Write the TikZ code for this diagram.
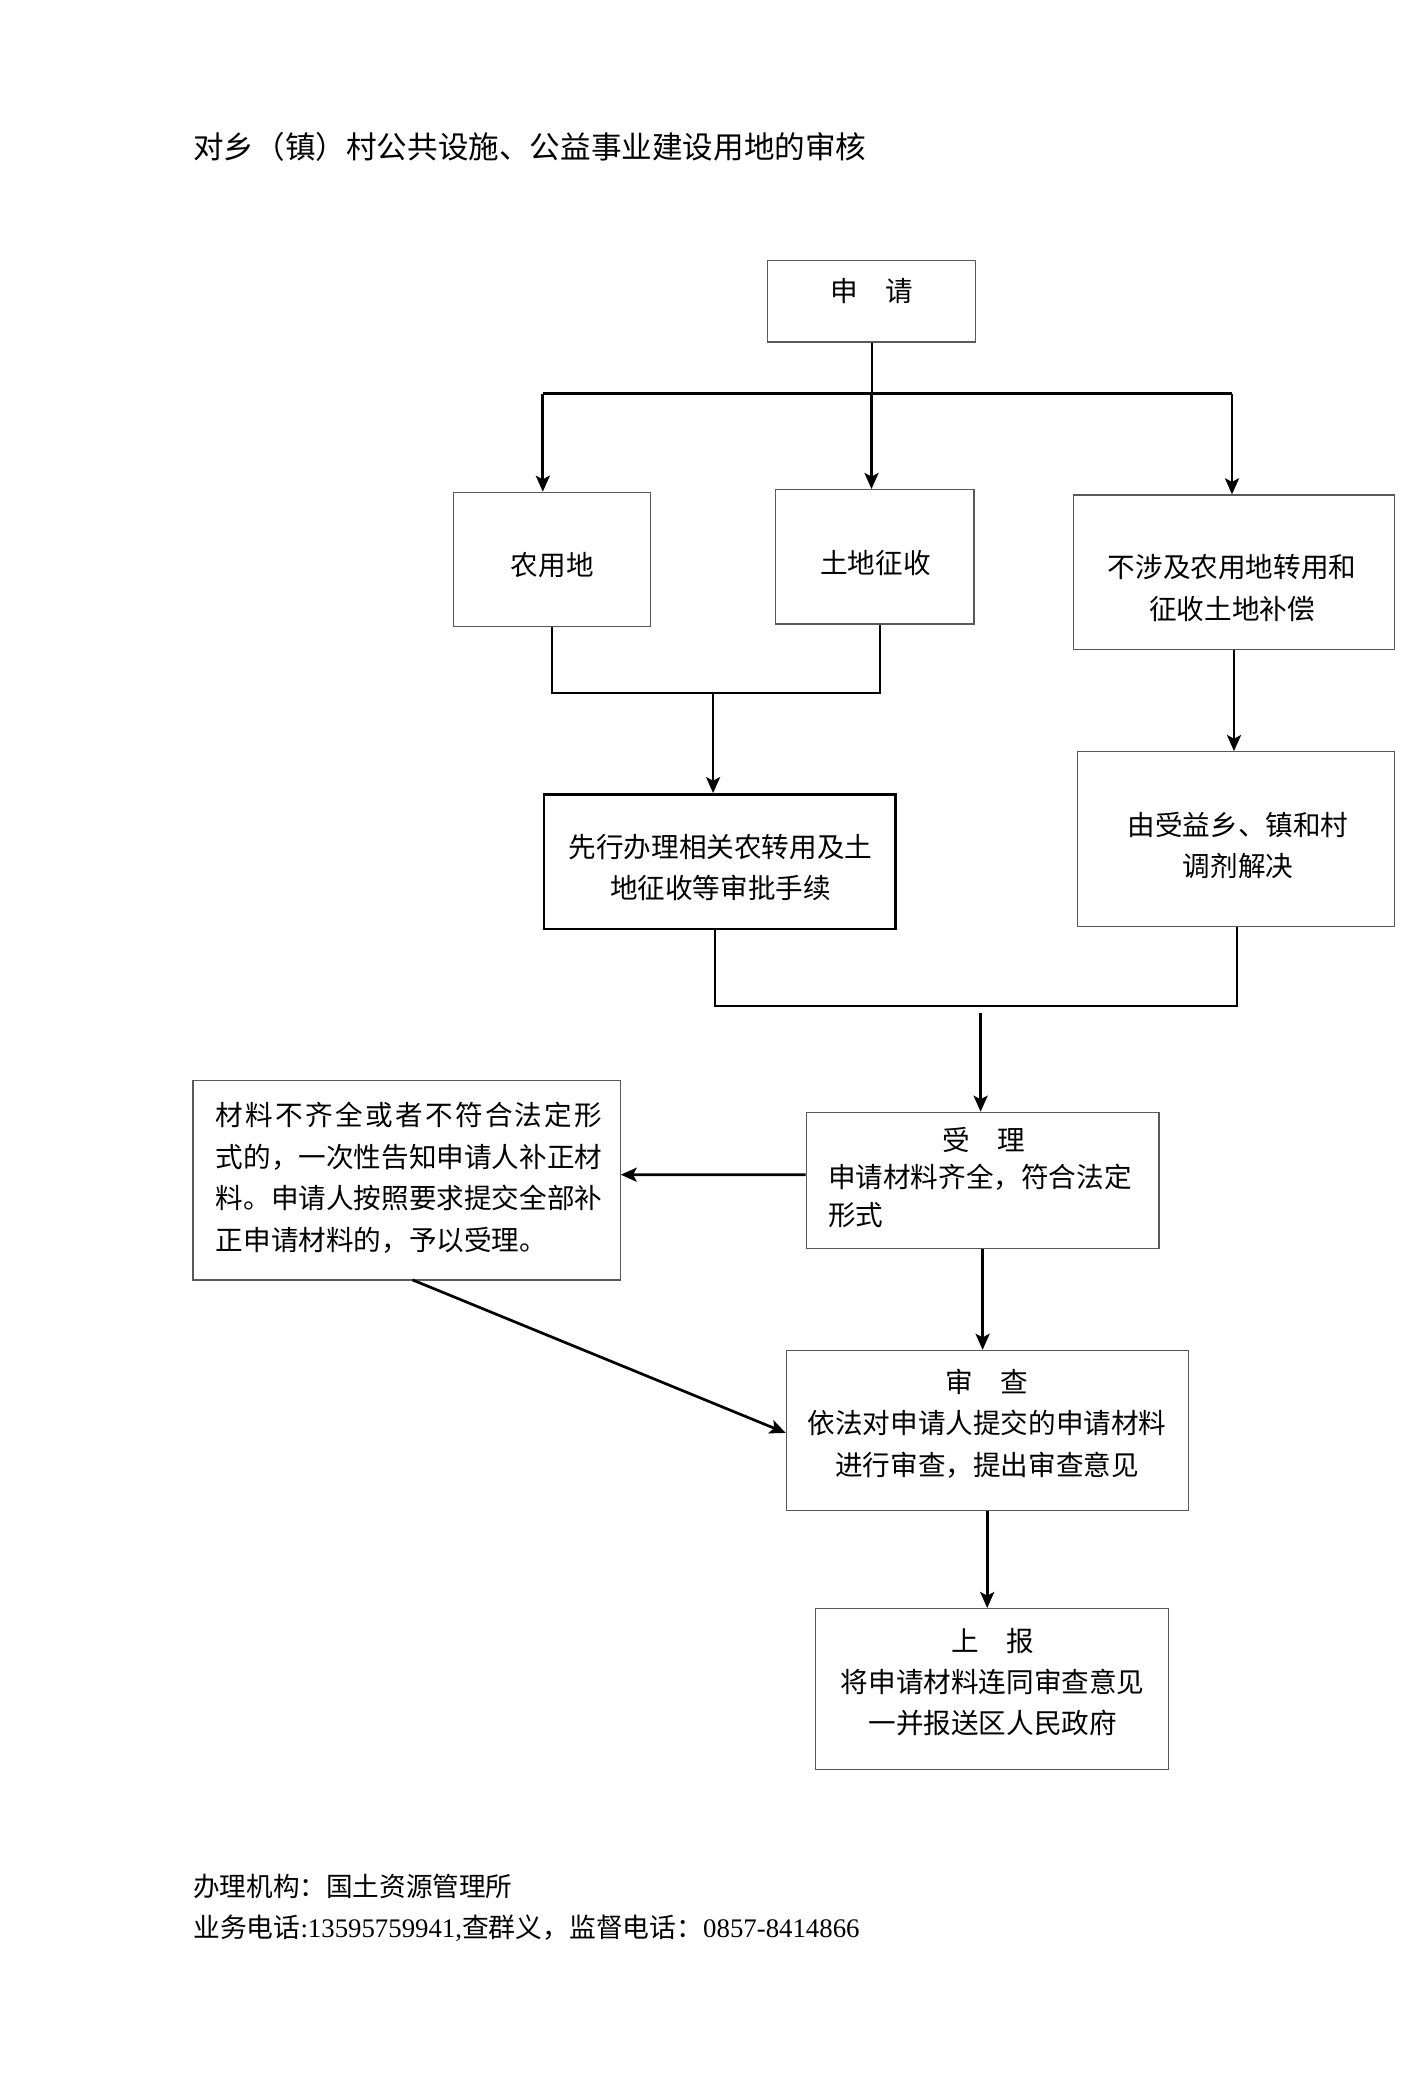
\documentclass[tikz,border=0pt]{standalone}
\usepackage{fontspec}
\setmainfont{Liberation Serif}
\newfontfamily\cjk{Noto Sans CJK SC}
\usetikzlibrary{arrows.meta,calc}
\tikzset{
  box/.style={draw=black!65, line width=0.6pt, inner sep=0pt, rectangle},
  boldbox/.style={draw=black, line width=1.2pt, inner sep=0pt, rectangle},
  txt/.style={inner sep=0pt, font=\cjk\fontsize{13.8}{20.6}\selectfont, align=center},
  plain/.style={inner sep=0pt, anchor=west},
  bus/.style={line width=1.5pt},
  lnk/.style={line width=1pt},
  arr/.style={line width=1.35pt, -{Stealth[length=8pt,width=7pt,inset=1.8pt]}},
}
\begin{document}
\begin{tikzpicture}[x=0.5pt,y=-0.5pt]
\useasboundingbox (0,0) rectangle (1413,2086);
\fill[white] (0,0) rectangle (1413,2086);

% title
\node[plain, font=\cjk\fontsize{15.3}{18}\selectfont] (title) at (192.9,146.4) {对乡（镇）村公共设施、公益事业建设用地的审核};

% boxes
\node[box, minimum width=103.8pt, minimum height=40.6pt] (sq) at (871.5,301.4) {};
\node[box, minimum width=98.5pt, minimum height=67.2pt] (nong) at (552.2,559.5) {};
\node[box, minimum width=99.1pt, minimum height=67.2pt] (zheng) at (874.8,556.8) {};
\node[box, minimum width=160.4pt, minimum height=77.2pt] (bsj) at (1234,572.1) {};
\node[boldbox, minimum width=175.6pt, minimum height=67.2pt] (xian) at (719.8,861.5) {};
\node[box, minimum width=158.4pt, minimum height=87.2pt] (you) at (1236,838.9) {};
\node[box, minimum width=176.3pt, minimum height=67.9pt] (shouli) at (982.6,1180.2) {};
\node[box, minimum width=213.6pt, minimum height=99.8pt] (buqi) at (406.5,1180.1) {};
\node[box, minimum width=200.9pt, minimum height=79.9pt] (shencha) at (987.2,1430.3) {};
\node[box, minimum width=176.3pt, minimum height=80.5pt] (shangbao) at (991.9,1689.1) {};

% texts
\node[txt] (t-sq) at (871.5,291.4) {申\hspace{1em}请};
\node[txt] (t-nong) at (552.2,565.5) {农用地};
\node[txt] (t-zheng) at (875.5,562.8) {土地征收};
\node[txt] (t-bsj) at (1232,588) {不涉及农用地转用和\\征收土地补偿};
\node[txt] (t-xian) at (720.5,867.5) {先行办理相关农转用及土\\地征收等审批手续};
\node[txt] (t-you) at (1238,845.5) {由受益乡、镇和村\\调剂解决};
\node[txt, anchor=west, align=left, text width=155.4pt, font=\cjk\fontsize{13.8}{18.6}\selectfont] (t-shouli) at (827.6,1177.5)
  {\makebox[155.4pt]{受\hspace{1em}理}\\申请材料齐全，符合法定\\形式};
\node[txt, anchor=west, align=left, text width=193.5pt, font=\cjk\fontsize{13.8}{20.75}\selectfont] (t-buqi) at (215.5,1177.5)
  {\makebox[193.2pt][s]{材\hfill 料\hfill 不\hfill 齐\hfill 全\hfill 或\hfill 者\hfill 不\hfill 符\hfill 合\hfill 法\hfill 定\hfill 形}\\式的，一次性告知申请人补正材\\料。申请人按照要求提交全部补\\正申请材料的，予以受理。};
\node[txt] (t-shencha) at (987,1423.6) {审\hspace{1em}查\\依法对申请人提交的申请材料\\进行审查，提出审查意见};
\node[txt] (t-shangbao) at (992.6,1681.8) {上\hspace{1em}报\\将申请材料连同审查意见\\一并报送区人民政府};

% footer
\node[plain, font=\cjk\fontsize{13.3}{16}\selectfont] (f1) at (192.9,1886.6) {办理机构：国土资源管理所};
\node[plain, font=\fontsize{13.4}{16}\selectfont] (f2) at (192.9,1927.9) {{\cjk 业务电话}:13595759941,{\cjk 查群义，监督电话：}0857-8414866};

% junction coordinates
\coordinate (J0) at (871.5,393.8);
\coordinate (hL) at (542.8,393.8);
\coordinate (hR) at (1232,393.8);
\coordinate (m1) at (552.2,693.2);
\coordinate (m2) at (879.5,693.2);
\coordinate (m3) at (713.1,693.2);
\coordinate (n1) at (714.5,1005.9);
\coordinate (n2) at (1237.4,1005.9);
\coordinate (n3) at (980.6,1013);
\coordinate (d1) at (412.5,1279.9);

% connectors
\draw[lnk] (sq.south) -- (J0);
\draw[bus] (hL) -- (hR);
\draw[arr] (hL) -- (hL |- nong.north);
\draw[arr] (J0) -- (J0 |- zheng.north);
\draw[arr] (hR) -- (hR |- bsj.north);

\draw[lnk] (nong.south) -- (m1) -- (m2) -- (m2 |- zheng.south);
\draw[arr] (m3) -- (m3 |- xian.north);
\draw[arr] (bsj.south) -- (bsj.south |- you.north);

\draw[lnk] (n1 |- xian.south) -- (n1) -- (n2) -- (n2 |- you.south);
\draw[arr] (n3) -- (n3 |- shouli.north);

\draw[arr] ([yshift=2.7pt]shouli.west) -- ([yshift=2.7pt]buqi.east);
\draw[arr] (shouli.south) -- (shouli.south |- shencha.north);
\draw[arr] (d1) -- ([yshift=-1.3pt]shencha.west);
\draw[arr] (shencha.south) -- (shencha.south |- shangbao.north);
\end{tikzpicture}
\end{document}
